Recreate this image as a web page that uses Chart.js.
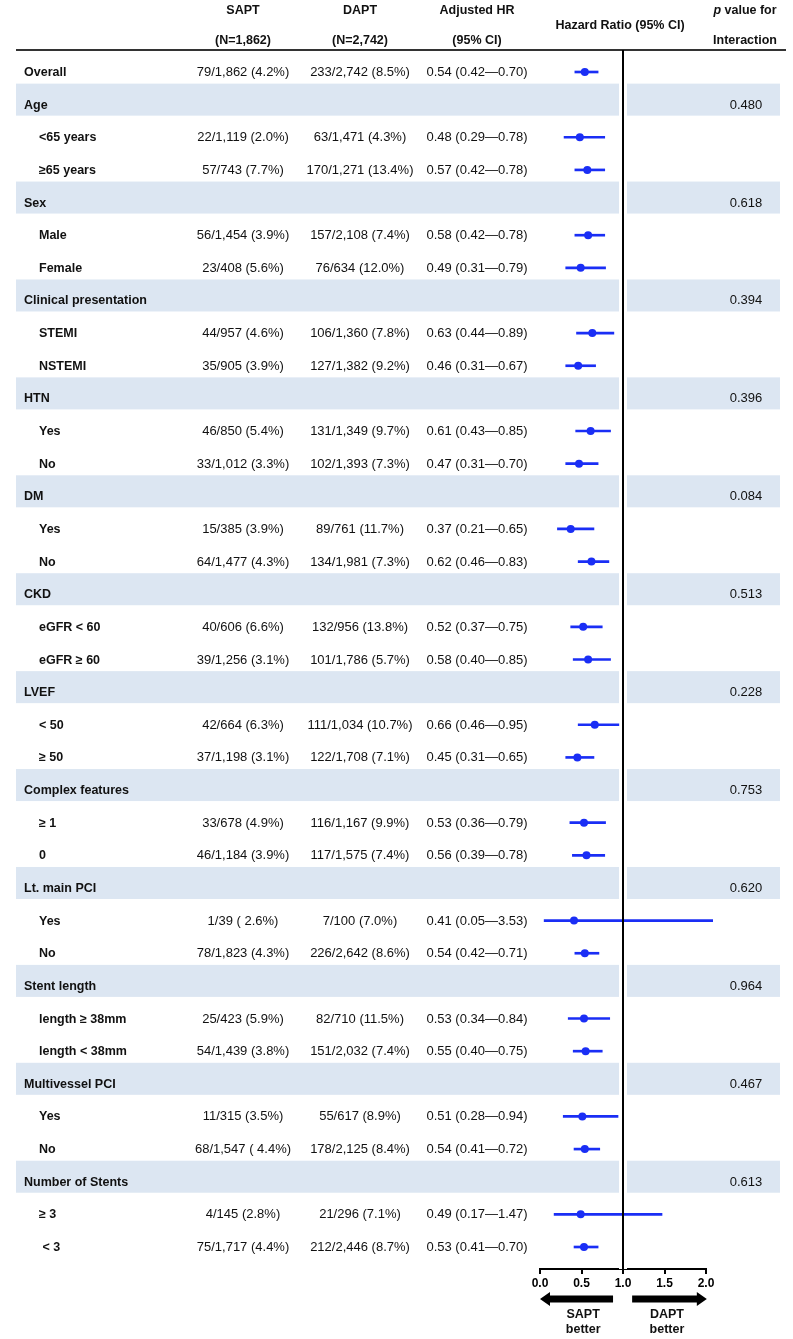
<!DOCTYPE html>
<html>
<head>
<meta charset="utf-8">
<script src="https://cdn.jsdelivr.net/npm/chart.js@4.4.1/dist/chart.umd.min.js"></script>
<style>
  body { margin: 0; background: #fff; }
  #wrap { position: relative; width: 793px; height: 1339px; font-family: Arial, "Liberation Sans", sans-serif; color: #111; }
  #forest { position: absolute; left: 0; top: 0; }
  .t { position: absolute; height: 16px; line-height: 16px; white-space: pre; font-size: 13px; }
  .b { font-weight: bold; font-size: 12.5px; }
  .c { transform: translateX(-50%); text-align: center; }
</style>
</head>
<body>
<div id="wrap">
  <canvas id="forest" width="793" height="1339"></canvas>
</div>
<script>
// rows of the table, top to bottom (group rows have no values)
const labels = ["Overall", "Age", "<65 years", "≥65 years", "Sex", "Male", "Female",
  "Clinical presentation", "STEMI", "NSTEMI", "HTN", "Yes", "No", "DM", "Yes", "No",
  "CKD", "eGFR < 60", "eGFR ≥ 60", "LVEF", "< 50", "≥ 50", "Complex features", "≥ 1", "0",
  "Lt. main PCI", "Yes", "No", "Stent length", "length ≥ 38mm", "length < 38mm",
  "Multivessel PCI", "Yes", "No", "Number of Stents", "≥ 3", " < 3"]
const isGroup = [true, true, false, false, true, false, false, true, false, false, true, false, false,
  true, false, false, true, false, false, true, false, false, true, false, false, true, false, false,
  true, false, false, true, false, false, true, false, false]
const isBand = labels.map((l, i) => isGroup[i] && i > 0)

const saptText = ["79/1,862 (4.2%)", null, "22/1,119 (2.0%)", "57/743 (7.7%)", null, "56/1,454 (3.9%)", "23/408 (5.6%)",
  null, "44/957 (4.6%)", "35/905 (3.9%)", null, "46/850 (5.4%)", "33/1,012 (3.3%)", null, "15/385 (3.9%)", "64/1,477 (4.3%)",
  null, "40/606 (6.6%)", "39/1,256 (3.1%)", null, "42/664 (6.3%)", "37/1,198 (3.1%)", null, "33/678 (4.9%)", "46/1,184 (3.9%)",
  null, "1/39 ( 2.6%)", "78/1,823 (4.3%)", null, "25/423 (5.9%)", "54/1,439 (3.8%)", null, "11/315 (3.5%)", "68/1,547 ( 4.4%)",
  null, "4/145 (2.8%)", "75/1,717 (4.4%)"]
const daptText = ["233/2,742 (8.5%)", null, "63/1,471 (4.3%)", "170/1,271 (13.4%)", null, "157/2,108 (7.4%)", "76/634 (12.0%)",
  null, "106/1,360 (7.8%)", "127/1,382 (9.2%)", null, "131/1,349 (9.7%)", "102/1,393 (7.3%)", null, "89/761 (11.7%)", "134/1,981 (7.3%)",
  null, "132/956 (13.8%)", "101/1,786 (5.7%)", null, "111/1,034 (10.7%)", "122/1,708 (7.1%)", null, "116/1,167 (9.9%)", "117/1,575 (7.4%)",
  null, "7/100 (7.0%)", "226/2,642 (8.6%)", null, "82/710 (11.5%)", "151/2,032 (7.4%)", null, "55/617 (8.9%)", "178/2,125 (8.4%)",
  null, "21/296 (7.1%)", "212/2,446 (8.7%)"]

const hr = [0.54, null, 0.48, 0.57, null, 0.58, 0.49, null, 0.63, 0.46, null, 0.61, 0.47, null, 0.37, 0.62,
  null, 0.52, 0.58, null, 0.66, 0.45, null, 0.53, 0.56, null, 0.41, 0.54, null, 0.53, 0.55, null, 0.51, 0.54,
  null, 0.49, 0.53]
const ciLow = [0.42, null, 0.29, 0.42, null, 0.42, 0.31, null, 0.44, 0.31, null, 0.43, 0.31, null, 0.21, 0.46,
  null, 0.37, 0.40, null, 0.46, 0.31, null, 0.36, 0.39, null, 0.05, 0.42, null, 0.34, 0.40, null, 0.28, 0.41,
  null, 0.17, 0.41]
const ciHigh = [0.70, null, 0.78, 0.78, null, 0.78, 0.79, null, 0.89, 0.67, null, 0.85, 0.70, null, 0.65, 0.83,
  null, 0.75, 0.85, null, 0.95, 0.65, null, 0.79, 0.78, null, 3.53, 0.71, null, 0.84, 0.75, null, 0.94, 0.72,
  null, 1.47, 0.70]
const pInteraction = [null, "0.480", null, null, "0.618", null, null, "0.394", null, null, "0.396", null, null,
  "0.084", null, null, "0.513", null, null, "0.228", null, null, "0.753", null, null, "0.620", null, null,
  "0.964", null, null, "0.467", null, null, "0.613", null, null]

const xTicks = [0, 0.5, 1, 1.5, 2]

const BLUE = "#1a2ef5"
const BAND = "#dce6f2"

const idx = labels.map((l, i) => i).filter((i) => hr[i] !== null)
const ciData = idx.map((i) => ({ x: [ciLow[i], ciHigh[i]], y: i }))
const hrData = idx.map((i) => ({ x: hr[i], y: i }))

// shaded group bands, header rule, arrows under the axis
const decor = {
  id: "decor",
  beforeDatasetsDraw(chart) {
    const { ctx } = chart
    const y = chart.scales.y
    const x = chart.scales.x
    ctx.save()
    ctx.fillStyle = BAND
    labels.forEach((l, i) => {
      if (!isBand[i]) return
      const py = y.getPixelForValue(i)
      ctx.fillRect(16, py - 21, 764, 32)
    })
    ctx.fillStyle = "#fff"
    ctx.fillRect(x.getPixelForValue(1) - 4, chart.chartArea.top + 2, 8, chart.chartArea.bottom - chart.chartArea.top - 2)
    ctx.restore()
  },
  afterDraw(chart) {
    const { ctx } = chart
    const x = chart.scales.x
    const top = chart.chartArea.top
    ctx.save()
    ctx.fillStyle = "#333"
    ctx.fillRect(16, top - 1, 770, 2)
    // vertical line at HR = 1
    ctx.fillStyle = "#000"
    ctx.fillRect(x.getPixelForValue(1) - 1, top, 2, chart.chartArea.bottom - top)
    // arrows
    const ay = chart.chartArea.bottom + 30
    const drawArrow = (from, to) => {
      const x0 = x.getPixelForValue(from)
      const x1 = x.getPixelForValue(to)
      const dir = Math.sign(x1 - x0)
      const head = 10
      ctx.beginPath()
      ctx.moveTo(x0, ay - 3.5)
      ctx.lineTo(x1 - dir * head, ay - 3.5)
      ctx.lineTo(x1 - dir * head, ay - 7)
      ctx.lineTo(x1, ay)
      ctx.lineTo(x1 - dir * head, ay + 7)
      ctx.lineTo(x1 - dir * head, ay + 3.5)
      ctx.lineTo(x0, ay + 3.5)
      ctx.closePath()
      ctx.fill()
    }
    drawArrow(0.88, 0)
    drawArrow(1.11, 2.01)
    ctx.restore()
  },
}

const chart = new Chart(document.getElementById("forest"), {
  type: "bar",
  data: {
    datasets: [
      {
        type: "bar",
        data: ciData,
        backgroundColor: BLUE,
        barThickness: 2,
        borderWidth: 0,
        clip: { left: 10, right: 7, top: 10, bottom: 10 },
        order: 2,
      },
      {
        type: "scatter",
        data: hrData,
        pointRadius: 4,
        pointBackgroundColor: BLUE,
        pointBorderWidth: 0,
        order: 1,
      },
    ],
  },
  options: {
    indexAxis: "y",
    responsive: false,
    animation: false,
    layout: { padding: { left: 540, right: 87, top: 50, bottom: 10 } },
    plugins: { legend: { display: false }, tooltip: { enabled: false } },
    scales: {
      x: {
        type: "linear",
        min: 0,
        max: 2,
        afterBuildTicks: (scale) => { scale.ticks = xTicks.map((v) => ({ value: v })) },
        afterFit: (scale) => { scale.height = 60 },
        ticks: {
          callback: (v) => v.toFixed(1),
          color: "#000",
          font: { family: "Arial, 'Liberation Sans'", size: 12, weight: "bold" },
          padding: 2,
          maxRotation: 0,
        },
        grid: { color: "rgba(0,0,0,0)", tickColor: "#000", tickLength: 5, lineWidth: 2 },
        border: { color: "#000", width: 2 },
      },
      y: {
        type: "linear",
        reverse: true,
        offset: false,
        grid: { offset: false },
        min: -0.674,
        max: 36.674,
        display: false,
      },
    },
  },
  plugins: [decor],
})

// table text, placed on the chart's own y scale
const wrap = document.getElementById("wrap")
function addText(txt, left, top, cls, html) {
  const d = document.createElement("div")
  d.className = "t " + (cls || "")
  d.style.left = left + "px"
  d.style.top = top - 8 + "px"
  if (html) d.innerHTML = txt
  else d.textContent = txt
  wrap.appendChild(d)
}

const ys = chart.scales.y
labels.forEach((l, i) => {
  const py = ys.getPixelForValue(i)
  addText(l, isGroup[i] ? 24 : 39, py, "b")
  if (saptText[i]) addText(saptText[i], 243, py, "c")
  if (daptText[i]) addText(daptText[i], 360, py, "c")
  if (hr[i] !== null) addText(`${hr[i].toFixed(2)} (${ciLow[i].toFixed(2)}—${ciHigh[i].toFixed(2)})`, 477, py, "c")
  if (pInteraction[i]) addText(pInteraction[i], 746, py, "c")
})

// column headers
addText("SAPT", 243, 10, "b c")
addText("(N=1,862)", 243, 40, "b c")
addText("DAPT", 360, 10, "b c")
addText("(N=2,742)", 360, 40, "b c")
addText("Adjusted HR", 477, 10, "b c")
addText("(95% CI)", 477, 40, "b c")
addText("Hazard Ratio (95% CI)", 620, 25, "b c")
addText("<i>p</i> value for", 745, 10, "b c", true)
addText("Interaction", 745, 40, "b c")

// arrow captions
const xs = chart.scales.x
const capY = chart.chartArea.bottom
addText("SAPT", xs.getPixelForValue(0.52), capY + 45, "b c")
addText("better", xs.getPixelForValue(0.52), capY + 60, "b c")
addText("DAPT", xs.getPixelForValue(1.53), capY + 45, "b c")
addText("better", xs.getPixelForValue(1.53), capY + 60, "b c")
</script>
</body>
</html>
